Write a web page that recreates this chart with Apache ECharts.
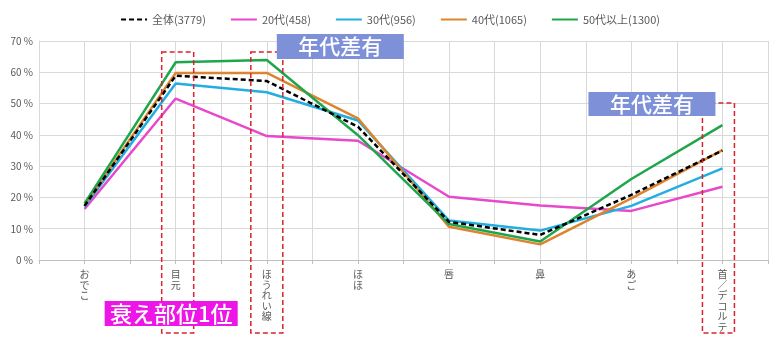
<!DOCTYPE html>
<html><head><meta charset="utf-8">
<script src="https://cdn.jsdelivr.net/npm/echarts@6/dist/echarts.min.js"></script>
<style>html,body{margin:0;padding:0;background:#fff}#c{width:780px;height:346px}</style>
</head><body><div id="c"></div>
<script>
const categories = ['おでこ','目元','ほうれい線','ほほ','唇','鼻','あご','首／デコルテ'];
const seriesNames = ['全体(3779)','20代(458)','30代(956)','40代(1065)','50代以上(1300)'];
const all  = [17.3, 58.9, 57.2, 42.6, 12.2, 8.0, 20.8, 35.0];
const s20  = [16.3, 51.6, 39.6, 38.1, 20.2, 17.4, 15.7, 23.4];
const s30  = [17.0, 56.4, 53.6, 44.6, 12.6, 9.4, 17.3, 29.3];
const s40  = [17.5, 59.8, 59.8, 45.3, 10.6, 5.0, 19.7, 35.1];
const s50  = [18.1, 63.2, 63.9, 39.9, 11.5, 5.9, 25.9, 43.1];
const yTicks = [0,10,20,30,40,50,60,70];

const FONT = '"Noto Sans CJK JP", "Noto Sans", sans-serif';
const colors = ['#000000','#e848cc','#22aee0','#dc842e','#1fa64c'];
const values = [all, s20, s30, s40, s50];
const halfCats = categories.flatMap(c => [c + '_a', c + '_b']);

const chart = echarts.init(document.getElementById('c'));
chart.setOption({
  animation: false,
  textStyle: {fontFamily: FONT},
  legend: {
    top: 9, left: 'center', itemWidth: 26, itemHeight: 10, itemGap: 24,
    textStyle: {fontSize: 11, color: '#595959', fontFamily: FONT},
    itemStyle: {opacity: 0},
    data: seriesNames
  },
  grid: {left: 39, right: 12, top: 41, bottom: 86},
  xAxis: [{
    type: 'category', data: categories, boundaryGap: true,
    axisLine: {lineStyle: {color: '#bfbfbf'}},
    axisTick: {show: false},
    splitLine: {show: false},
    axisLabel: {
      interval: 0, margin: 9, fontSize: 10, color: '#595959', lineHeight: 10.5,
      verticalAlign: 'top', fontFamily: FONT,
      formatter: v => v.split('').join('\n')
    }
  },{
    type: 'category', data: halfCats, boundaryGap: true, position: 'bottom',
    axisLine: {show: false},
    axisTick: {show: true, interval: 0, length: 4, lineStyle: {color: '#bfbfbf'}},
    axisLabel: {show: false},
    splitLine: {show: true, interval: 0, lineStyle: {color: '#d9d9d9', width: 1}}
  }],
  yAxis: {
    type: 'value', min: 0, max: 70, interval: 10,
    axisLine: {show: true, lineStyle: {color: '#d9d9d9'}},
    axisTick: {show: false},
    splitLine: {lineStyle: {color: '#d9d9d9'}},
    axisLabel: {fontSize: 10, color: '#595959', margin: 6,
      formatter: v => yTicks.includes(v) ? v + ' %' : ''}
  },
  series: seriesNames.map((n, i) => ({
    name: n, type: 'line', data: values[i], symbol: 'none', xAxisIndex: 0,
    z: i === 0 ? 5 : 2,
    lineStyle: {color: colors[i], width: 2.5, type: i === 0 ? [5, 3] : 'solid'},
    itemStyle: {color: colors[i]}
  }))
});

function px(ci, v) { return chart.convertToPixel({xAxisIndex: 0, yAxisIndex: 0}, [ci, v]); }
const bottomY = 333;
const boxes = [
  {ci: 1, top: 66.5, dx: 2},
  {ci: 2, top: 66.5, dx: 0},
  {ci: 7, top: 50.2, dx: -4}
];
const g = [];
boxes.forEach(b => {
  const p = px(b.ci, b.top);
  g.push({type: 'rect', z: 10,
    shape: {x: p[0] - 16 + b.dx, y: p[1], width: 32, height: bottomY - p[1]},
    style: {fill: 'none', stroke: '#d9232e', lineWidth: 1.5, lineDash: [5, 3]}});
});
function label(x, y, w, h, text, fill, fs) {
  g.push({type: 'rect', z: 20, shape: {x: x, y: y, width: w, height: h}, style: {fill: fill}});
  g.push({type: 'text', z: 21, x: x + w / 2, y: y + h / 2,
    style: {text: text, fill: '#fff', font: '500 ' + fs + 'px ' + FONT, align: 'center', verticalAlign: 'middle'}});
}
const p2 = px(2, 70), p7 = px(7, 50);
label(p2[0] + 10, 34, 127, 25, '年代差有', '#7d90d8', 21);
label(p7[0] - 134, 92, 127, 24, '年代差有', '#7d90d8', 21);
const p1 = px(1, 0);
label(p1[0] - 71, 301, 133, 25, '衰え部位1位', '#ee16e6', 22);
chart.setOption({graphic: g});
</script>
</body></html>
